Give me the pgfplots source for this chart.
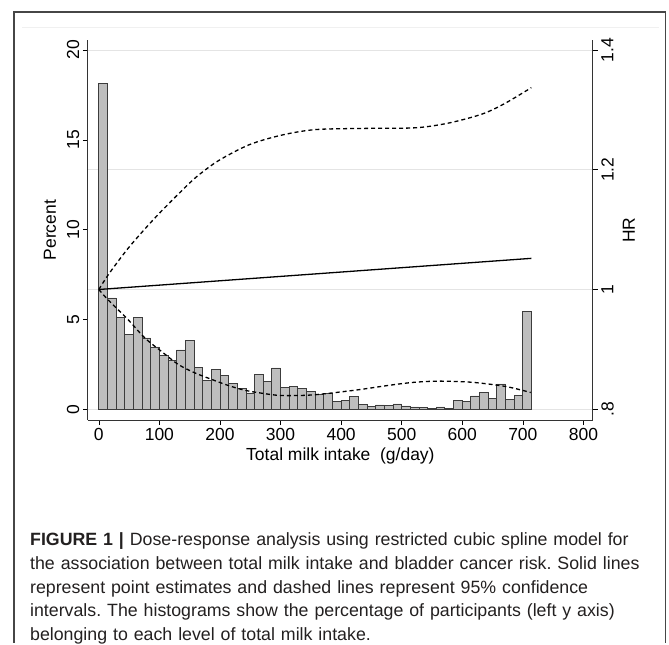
\documentclass[border=0pt]{standalone}
\usepackage{pgfplots}
\pgfplotsset{compat=1.18}
\usepackage{fontspec}
\setmainfont{Liberation Sans}
\newfontfamily\capfont{Liberation Sans}

\definecolor{barfill}{RGB}{190,190,190}
\definecolor{baredge}{RGB}{60,60,60}
\definecolor{gridc}{RGB}{228,228,228}
\definecolor{framec}{RGB}{70,70,70}
\definecolor{captxt}{RGB}{35,32,32}

% histogram, bins of 14.28 g/day (centres)
\pgfplotstableread{
x      pct
7.14   18.15
21.42  6.20
35.70  5.10
49.98  4.18
64.26  5.09
78.54  3.97
92.82  3.47
107.10 2.98
121.38 2.70
135.66 3.30
149.94 3.82
164.22 2.34
178.50 1.62
192.78 2.21
207.06 1.87
221.34 1.44
235.62 1.15
249.90 0.91
264.18 1.93
278.46 1.56
292.74 2.30
307.02 1.22
321.30 1.26
335.58 1.15
349.86 0.98
364.14 0.83
378.42 0.89
392.70 0.43
406.98 0.48
421.26 0.72
435.54 0.26
449.82 0.15
464.10 0.24
478.38 0.22
492.66 0.30
506.94 0.19
521.22 0.13
535.50 0.09
549.78 0.06
564.06 0.13
578.34 0.04
592.62 0.50
606.90 0.43
621.18 0.74
635.46 0.94
649.74 0.59
664.02 1.41
678.30 0.54
692.58 0.76
706.86 5.44
}\histtab

\pgfplotstableread{
x    hr
0    1.000
18   1.028
51   1.072
95   1.122
144  1.172
166  1.192
199  1.216
249  1.242
303  1.258
358  1.267
441  1.269
523  1.270
578  1.278
633  1.293
671  1.311
714  1.337
}\uppertab

\pgfplotstableread{
x    hr
0    1.000
15   0.983
48   0.950
76   0.919
103  0.897
131  0.875
158  0.861
186  0.850
213  0.840
240  0.832
268  0.827
301  0.823
353  0.824
424  0.832
479  0.840
520  0.845
562  0.847
617  0.845
672  0.838
713  0.828
}\lowertab

\begin{document}
\begin{tikzpicture}
\path (0,0) rectangle (669pt,644pt);
% outer frame
\draw[framec, line width=1.1pt] (14pt,0pt) -- (14pt,632pt) -- (667pt,632pt) -- (667pt,0pt);
\draw[gray!12, line width=0.8pt] (22pt,617pt) -- (660pt,617pt);

\pgfplotsset{
  common/.style={
    at={(88pt,223pt)}, anchor=south west, scale only axis,
    width=506pt, height=381pt,
    xmin=-18.1, xmax=815.7,
    font=\fontsize{17.5}{20}\selectfont,
    /pgf/number format/assume math mode=true,
    tick align=outside, major tick length=5pt,
    tick style={black, line width=0.6pt},
    axis line style={black!80, line width=0.9pt},
  },
}

% right HR axis with grid
\begin{axis}[common,
  ymin=0.7817, ymax=1.4167,
  axis y line*=right, axis x line=none,
  ytick={0.8,1,1.2,1.4}, yticklabels={.8,1,1.2,1.4},
  ymajorgrids, grid style={gridc, line width=0.8pt},
  yticklabel style={rotate=90, anchor=north},
  ylabel={HR},
  ylabel style={at={(axis description cs:1.071,0.5)}, anchor=center},
]
\end{axis}

% percent axis with histogram
\begin{axis}[common,
  ymin=-0.61, ymax=20.56,
  axis x line*=bottom, axis y line*=left,
  xtick={0,100,...,800},
  ytick={0,5,...,20},
  yticklabel style={rotate=90, anchor=south},
  xlabel={Total milk intake\ \ (g/day)},
  ylabel={Percent},
  xlabel style={at={(axis description cs:0.5,-0.0945)}, anchor=center},
  ylabel style={at={(axis description cs:-0.0751,0.5)}, anchor=center},
]
\addplot[ybar, bar width=14.28, fill=barfill, draw=baredge, line width=0.7pt]
  table[x=x, y=pct] {\histtab};
\end{axis}

% HR curves
\begin{axis}[common,
  ymin=0.7817, ymax=1.4167,
  hide axis,
]
\addplot[black, line width=1.3pt] coordinates {(0,1.000) (714,1.052)};
\addplot[black, line width=1.3pt, dash pattern=on 4pt off 3pt, smooth]
  table[x=x, y=hr] {\uppertab};
\addplot[black, line width=1.3pt, dash pattern=on 4pt off 3pt, smooth]
  table[x=x, y=hr] {\lowertab};
\end{axis}

% caption
\node[anchor=north west, inner sep=0pt, text width=640pt, align=left,
  font=\capfont\fontsize{17.8}{24}\selectfont\frenchspacing, text=captxt]
  at (30pt,111pt)
  {\textbf{FIGURE 1 |} Dose-response analysis using restricted cubic spline model for\\
   the association between total milk intake and bladder cancer risk. Solid lines\\
   represent point estimates and dashed lines represent 95\% confidence\\
   intervals. The histograms show the percentage of participants (left y axis)\\
   belonging to each level of total milk intake.};
\end{tikzpicture}
\end{document}
